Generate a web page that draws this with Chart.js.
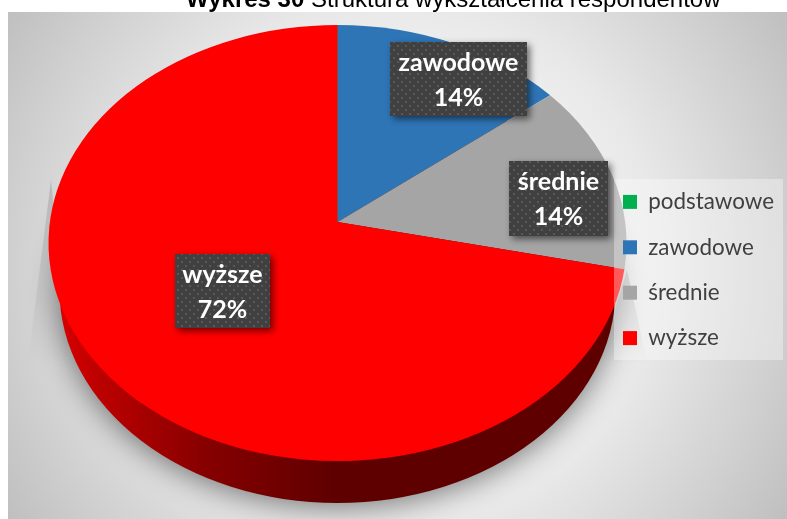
<!DOCTYPE html>
<html>
<head>
<meta charset="utf-8">
<style>
  html, body { margin: 0; padding: 0; background: #fff; }
  canvas { display: block; }
</style>
<script src="https://cdn.jsdelivr.net/npm/chart.js@4"></script>
</head>
<body>
<canvas id="pieChart" width="787" height="519"></canvas>
<script>
const categories = ['podstawowe', 'zawodowe', 'średnie', 'wyższe'];
const shares = [0, 14, 14, 72];
const sliceColors = ['#00b050', '#2e75b6', '#a5a5a5', '#ff0000'];
const titleBold = 'Wykres 30';
const titleRest = ' Struktura wykształcenia respondentów';

// label boxes, [left, top, right, bottom], null = no label for that slice
const labelBoxes = [null, [390, 42, 527, 116], [509, 161, 608, 236], [175, 254, 270, 328]];

const TILT = 289 / 218;     // horizontal stretch of the pie disc
const APEX_LIFT = 21;       // perspective: centre of the slices sits above the disc centre
const WARP = 0.069;         // perspective: how much rim angles get squeezed
const labelFont = 'bold 25px Lato';

function rimAngle(angle) {
  const t = angle + Math.PI / 2;
  return t - WARP * Math.sin(t) - Math.PI / 2;
}

function dotPattern(ctx) {
  const c = document.createElement('canvas');
  c.width = 8;
  c.height = 8;
  const p = c.getContext('2d');
  p.fillStyle = '#404040';
  p.fillRect(0, 0, 8, 8);
  p.fillStyle = '#585858';
  p.fillRect(1, 1, 2, 2);
  p.fillRect(5, 5, 2, 2);
  return ctx.createPattern(c, 'repeat');
}

function streak(ctx, points) {
  const g = ctx.createLinearGradient(0, points[0][1], 0, 365);
  g.addColorStop(0, 'rgba(130,130,130,0.35)');
  g.addColorStop(1, 'rgba(130,130,130,0)');
  ctx.fillStyle = g;
  ctx.beginPath();
  points.forEach(([x, y], i) => (i ? ctx.lineTo(x, y) : ctx.moveTo(x, y)));
  ctx.closePath();
  ctx.fill();
}

const backdrop = {
  id: 'backdrop',
  beforeDraw(chart) {
    const ctx = chart.ctx;
    ctx.save();
    ctx.font = 'bold 24px "Liberation Sans"';
    ctx.fillStyle = '#000';
    ctx.textBaseline = 'alphabetic';
    ctx.fillText(titleBold, 186, 7);
    const w = ctx.measureText(titleBold).width;
    ctx.font = '24px "Liberation Sans"';
    ctx.fillText(titleRest, 186 + w, 7);

    const g = ctx.createRadialGradient(397, 265, 0, 397, 265, 480);
    g.addColorStop(0, '#f4f4f4');
    g.addColorStop(0.45, '#eeeeee');
    g.addColorStop(0.55, '#e8e8e8');
    g.addColorStop(0.8, '#d0d0d0');
    g.addColorStop(1, '#bcbcbc');
    ctx.fillStyle = g;
    ctx.fillRect(8, 12, 779, 507);
    ctx.restore();
  }
};

const tiltedPie = {
  id: 'tiltedPie',
  afterLayout(chart) {
    const legend = chart.legend;
    legend.left = 600;
    legend.right = 787;
    legend.top += 27;
    legend.bottom += 27;
    // legend has to sit above the panel, which is painted after the slices
    legend._layers = () => [{ z: 10, draw: () => legend.draw() }];
    chart._layers = [];
    chart.boxes.forEach((box) => chart._layers.push(...box._layers()));
    chart._layers.sort((a, b) => a.z - b.z);
  },
  beforeDatasetDraw(chart, args) {
    const ctx = chart.ctx;
    const arcs = args.meta.data;
    const cx = arcs[0].x;
    const cy = arcs[0].y;
    const ry = arcs[0].outerRadius;
    const rx = ry * TILT;

    ctx.save();
    streak(ctx, [[51, 180], [28, 362], [70, 362]]);
    streak(ctx, [[627, 270], [647, 362], [600, 362]]);

    // wall of the disc with its soft shadow
    const wall = ctx.createLinearGradient(cx - rx, 0, cx, 0);
    wall.addColorStop(0, '#e00000');
    wall.addColorStop(0.15, '#c00000');
    wall.addColorStop(0.55, '#860000');
    wall.addColorStop(1, '#5e0000');
    ctx.shadowColor = 'rgba(0,0,0,0.5)';
    ctx.shadowBlur = 30;
    ctx.shadowOffsetY = 4;
    ctx.fillStyle = wall;
    ctx.beginPath();
    ctx.ellipse(cx, cy + 47, rx - 11, ry - 5, 0, 0, Math.PI * 2);
    ctx.fill();
    ctx.restore();

    // slices, angles come from the library
    arcs.forEach((arc) => {
      const a = rimAngle(arc.startAngle);
      const b = rimAngle(arc.endAngle);
      ctx.beginPath();
      ctx.moveTo(cx, cy - APEX_LIFT);
      ctx.ellipse(cx, cy, rx, ry, 0, a, b);
      ctx.closePath();
      if (b - a < 0.001) {
        ctx.strokeStyle = arc.options.backgroundColor;
        ctx.lineWidth = 1;
        ctx.stroke();
      } else {
        ctx.fillStyle = arc.options.backgroundColor;
        ctx.fill();
      }
    });
    return false;
  },
  afterDatasetsDraw(chart) {
    const ctx = chart.ctx;
    ctx.save();
    ctx.fillStyle = 'rgba(255,255,255,0.35)';
    ctx.fillRect(614, 179, 169, 181);
    ctx.restore();
  },
  afterDraw(chart) {
    const ctx = chart.ctx;
    const pattern = dotPattern(ctx);
    ctx.save();
    labelBoxes.forEach((box, i) => {
      if (!box) return;
      const [l, t, r, b] = box;
      ctx.save();
      ctx.shadowColor = 'rgba(0,0,0,0.55)';
      ctx.shadowBlur = 7;
      ctx.shadowOffsetX = 3;
      ctx.shadowOffsetY = 3;
      ctx.fillStyle = pattern;
      ctx.fillRect(l, t, r - l, b - t);
      ctx.restore();
      ctx.fillStyle = '#fff';
      ctx.font = labelFont;
      ctx.textAlign = 'center';
      ctx.textBaseline = 'middle';
      const mid = (l + r) / 2;
      ctx.fillText(categories[i], mid, t + 21);
      ctx.fillText(shares[i] + '%', mid, t + 56);
    });
    ctx.restore();
  }
};

new Chart(document.getElementById('pieChart'), {
  type: 'pie',
  data: {
    labels: categories,
    datasets: [{
      data: shares,
      backgroundColor: sliceColors,
      borderWidth: 0
    }]
  },
  options: {
    responsive: false,
    animation: false,
    radius: 218,
    layout: { padding: { left: 72, right: 0, top: 25, bottom: 58 } },
    plugins: {
      title: { display: false },
      tooltip: { enabled: false },
      legend: {
        position: 'right',
        labels: {
          boxWidth: 14,
          boxHeight: 14,
          padding: 23,
          color: '#404040',
          font: { family: 'Lato', size: 22.4 }
        }
      }
    }
  },
  plugins: [backdrop, tiltedPie]
});
</script>
</body>
</html>
